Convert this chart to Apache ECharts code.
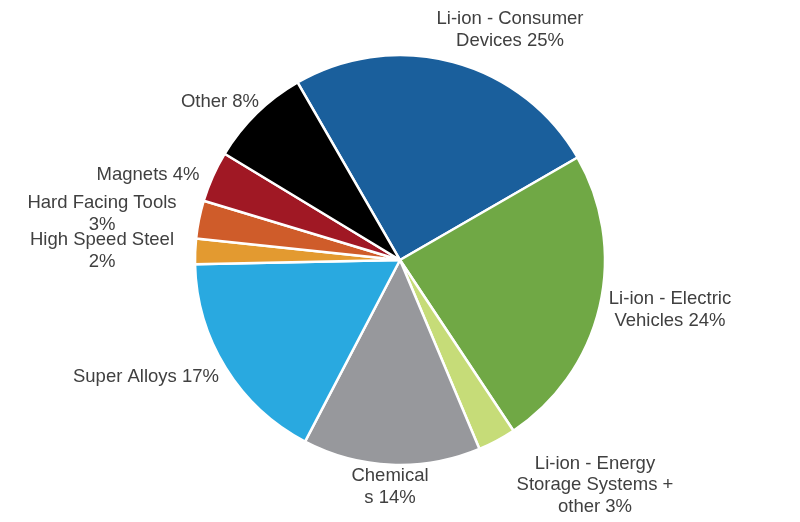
<!DOCTYPE html>
<html>
<head>
<meta charset="utf-8">
<script src="https://cdn.jsdelivr.net/npm/echarts@6/dist/echarts.min.js"></script>
<style>html,body{margin:0;padding:0;background:#fff;}#c{width:800px;height:522px;}</style>
</head>
<body>
<div id="c"></div>
<script>
const categories = [
  'Li-ion - Consumer\nDevices',
  'Li-ion - Electric\nVehicles',
  'Li-ion - Energy\nStorage Systems +\nother',
  'Chemical\ns',
  'Super Alloys',
  'High Speed Steel\n',
  'Hard Facing Tools\n',
  'Magnets',
  'Other'
];
const values = [25, 24, 3, 14, 17, 2, 3, 4, 8];
const colors = ['#1a5f9c', '#70a845', '#c6dc78', '#97989c', '#29a9e0', '#e39a30', '#cf5c2a', '#a01824', '#000000'];
// label block centres (layout only)
const labelPos = [[510, 30], [670, 310], [595, 485], [390, 487], [146, 377], [102, 251], [102, 214], [148, 175], [220, 102]];

const chart = echarts.init(document.getElementById('c'), null, {renderer: 'canvas'});
chart.setOption({
  animation: false,
  series: [{
    type: 'pie',
    center: [400, 260],
    radius: 205,
    startAngle: 120,
    clockwise: true,
    avoidLabelOverlap: false,
    itemStyle: {borderColor: '#ffffff', borderWidth: 2.5},
    label: {
      show: true,
      position: 'outside',
      color: '#404040',
      fontFamily: 'Liberation Sans, Arial, sans-serif',
      fontSize: 18.5,
      lineHeight: 21.5,
      align: 'center',
      formatter: function (p) {
        const n = p.name;
        return n.endsWith('\n') ? n + p.value + '%' : n + ' ' + p.value + '%';
      }
    },
    labelLine: {show: false},
    labelLayout: function (params) {
      const pos = labelPos[params.dataIndex];
      return {x: pos[0], y: pos[1], align: 'center', verticalAlign: 'middle'};
    },
    data: categories.map((c, i) => ({name: c, value: values[i], itemStyle: {color: colors[i]}}))
  }]
});
</script>
</body>
</html>
